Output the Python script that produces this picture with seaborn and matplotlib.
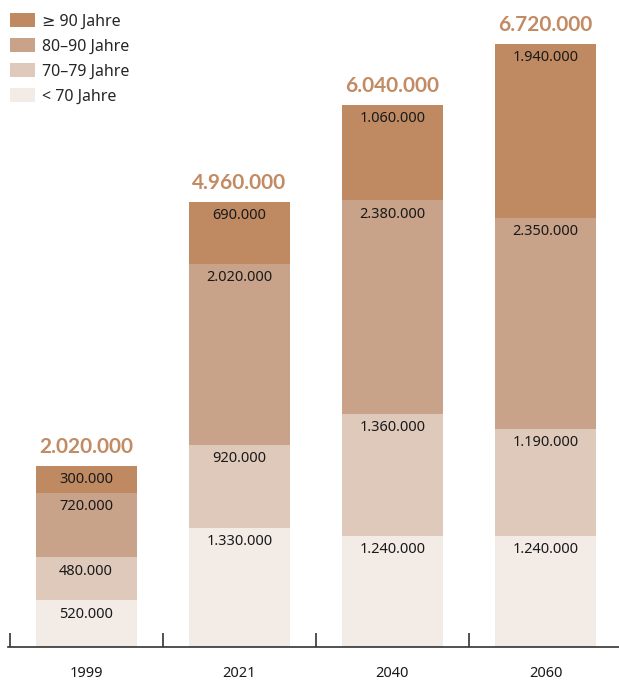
import matplotlib
matplotlib.use("Agg")
import matplotlib.pyplot as plt
from matplotlib.patches import Patch
import seaborn as sns
import pandas as pd
import numpy as np

# Data (persons)
years = ["1999", "2021", "2040", "2060"]
under_70 = [520000, 1330000, 1240000, 1240000]
age_70_79 = [480000, 920000, 1360000, 1190000]
age_80_90 = [720000, 2020000, 2380000, 2350000]
age_90_plus = [300000, 690000, 1060000, 1940000]
totals = [2020000, 4960000, 6040000, 6720000]

layer_names = ["< 70 Jahre", "70\u201379 Jahre", "80\u201390 Jahre", "\u2265 90 Jahre"]
layer_values = [under_70, age_70_79, age_80_90, age_90_plus]
layer_colors = ["#f3ebe6", "#dfc9bb", "#c8a289", "#bf8962"]
total_color = "#c28b63"

sns.set_theme(style="white")
plt.rcParams["font.family"] = ["Noto Sans", "DejaVu Sans"]


def fmt(v):
    return f"{v:,.0f}".replace(",", ".")


fig = plt.figure(figsize=(6.19, 6.81), dpi=100)
ax = fig.add_axes([8 / 619, 34 / 681, 611 / 619, 647 / 681])

vals = np.array(layer_values, dtype=float)
cum = np.cumsum(vals, axis=0)
bar_width = 0.66

# Stacked bars: draw cumulative heights from the top layer downwards
for i in range(len(layer_names) - 1, -1, -1):
    df = pd.DataFrame({"Jahr": years, "Wert": cum[i]})
    sns.barplot(data=df, x="Jahr", y="Wert", color=layer_colors[i],
                width=bar_width, saturation=1, ax=ax, linewidth=0)

# Segment labels just below each segment's upper edge
for i in range(len(layer_names)):
    for j, y in enumerate(years):
        ax.annotate(fmt(vals[i, j]), xy=(j, cum[i, j]), xytext=(0, -10),
                    textcoords="offset points", ha="center", va="center",
                    fontsize=10.5, color="#1a1a1a")

# Totals above the bars
for j, t in enumerate(totals):
    ax.annotate(fmt(t), xy=(j, t), xytext=(0, 13.5), textcoords="offset points",
                ha="center", va="center", fontsize=15, fontweight="bold",
                family=["Lato", "DejaVu Sans"], color=total_color)

ax.set_xlim(-0.51, 3.48)
ax.set_ylim(0, 7.21e6)
ax.set_xlabel("")
ax.set_ylabel("")
ax.set_yticks([])
for s in ["left", "right", "top"]:
    ax.spines[s].set_visible(False)
ax.spines["bottom"].set_color("#333333")
ax.spines["bottom"].set_linewidth(1.2)

ax.set_xticks(np.arange(len(years)))
ax.set_xticklabels(years)
ax.set_xticks([-0.5, 0.5, 1.5, 2.5], minor=True)
ax.tick_params(axis="x", which="major", length=0, pad=14, labelsize=10.5,
               labelcolor="#1a1a1a")
ax.tick_params(axis="x", which="minor", direction="in", length=10, width=1.2,
               color="#333333", bottom=True)

handles = [Patch(facecolor=layer_colors[i], edgecolor="none", label=layer_names[i])
           for i in range(len(layer_names) - 1, -1, -1)]
fig.legend(handles=handles, loc="upper left", bbox_to_anchor=(0.0, 0.995),
           frameon=False, fontsize=11.5, handlelength=1.6, handleheight=1.0,
           handletextpad=0.45, labelspacing=0.52, borderaxespad=0.3,
           borderpad=0.3)

fig.savefig("out.png", dpi=100)
